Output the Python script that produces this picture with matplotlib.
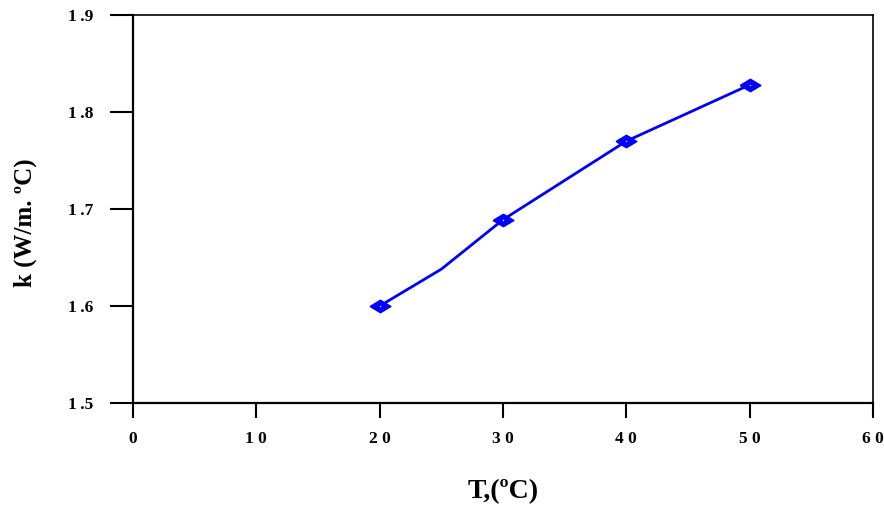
import matplotlib.pyplot as plt

# data
temp = [20, 25, 30, 40, 50]
k_vals = [1.600, 1.638, 1.689, 1.770, 1.828]
marker_temp = [20, 30, 40, 50]
marker_k = [1.600, 1.689, 1.770, 1.828]

xticks = [0, 10, 20, 30, 40, 50, 60]
xtick_labels = ['0', '1 0', '2 0', '3 0', '4 0', '5 0', '6 0']
yticks = [1.5, 1.6, 1.7, 1.8, 1.9]
ytick_labels = ['1\u2009.5', '1\u2009.6', '1\u2009.7', '1\u2009.8', '1\u2009.9']

plt.rcParams['font.family'] = ['Liberation Serif', 'DejaVu Serif']
plt.rcParams['font.weight'] = 'bold'

fig = plt.figure(figsize=(8.84, 5.11), dpi=100)
ax = fig.add_axes([0.1505, 0.2114, 0.8371, 0.7592])

diamond = [(-1, 0), (0, 0.6), (1, 0), (0, -0.6), (-1, 0)]
ax.plot(temp, k_vals, color='#0000ff', lw=2)
ax.plot(marker_temp, marker_k, ls='none', marker=diamond, ms=15,
        color='#0000ff', mec='#0000ff', mew=1)
# tiny hollow centre of each marker
ax.plot(marker_temp, marker_k, ls='none', marker='o', ms=1,
        color='white', mec='white', mew=0)

ax.set_xlim(0, 60)
ax.set_ylim(1.5, 1.9)
ax.set_xticks(xticks)
ax.set_xticklabels(xtick_labels, fontsize=12.5, fontweight='bold')
ax.set_yticks(yticks)
ax.set_yticklabels(ytick_labels, fontsize=12.5, fontweight='bold')

ax.tick_params(axis='x', direction='out', length=11, width=1.5, pad=9)
ax.tick_params(axis='y', direction='out', length=16.5, width=1.5, pad=12)
for side in ['left', 'bottom']:
    ax.spines[side].set_linewidth(1.6)
for side in ['top', 'right']:
    ax.spines[side].set_linewidth(1.2)

ax.set_xlabel('T,(ºC)', fontsize=20, fontweight='bold', labelpad=23)
ax.set_ylabel('k (W/m. ºC)', fontsize=18, fontweight='bold', labelpad=22,
              y=0.464)

fig.savefig('out.png', dpi=100)
